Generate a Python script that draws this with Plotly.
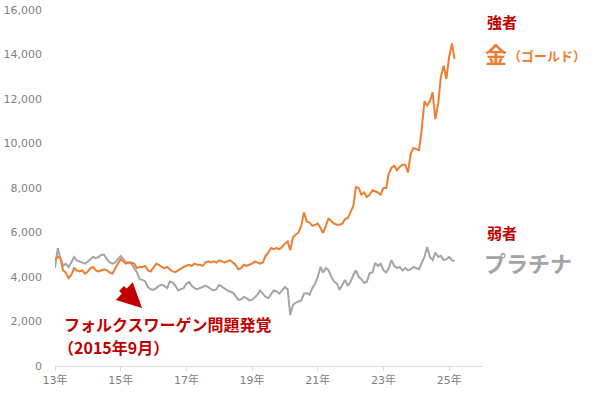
import pandas as pd
import plotly.graph_objects as go

# Monthly values (yen per gram), Jan 2013 - Mar 2025
gold = [
    4800, 4900, 4850, 4300, 4200, 3950, 4100, 4400, 4300, 4250, 4300, 4150,
    4250, 4400, 4450, 4300, 4250, 4300, 4350, 4300, 4200, 4150, 4400, 4600,
    4800, 4700, 4600, 4650, 4650, 4600, 4400, 4450, 4450, 4500, 4300, 4250,
    4450, 4600, 4550, 4450, 4400, 4450, 4350, 4250, 4220, 4300, 4350, 4450,
    4500, 4550, 4500, 4600, 4550, 4550, 4500, 4650, 4700, 4650, 4700, 4650,
    4750, 4700, 4650, 4700, 4750, 4650, 4550, 4350, 4400, 4550, 4500, 4550,
    4600, 4700, 4650, 4600, 4650, 4950, 5100, 5300, 5250, 5300, 5250, 5350,
    5500, 5600, 5200, 5800, 5900, 6000, 6300, 6900, 6500, 6450, 6300, 6350,
    6400, 6200, 5980, 6300, 6650, 6500, 6400, 6350, 6350, 6400, 6600, 6650,
    6900, 7200, 8050, 8000, 7700, 7800, 7600, 7700, 7900, 7850, 7800, 7700,
    8000, 8000, 8650, 8900, 9000, 8800, 8950, 9050, 9050, 8700, 9550, 9800,
    9750, 9700, 10600, 11900, 11700, 11900, 12300, 11100, 11800, 13000, 13500, 12900,
    13900, 14500, 13800,
]
platinum = [
    4400, 5300, 4850, 4500, 4600, 4450, 4650, 4900, 4750, 4700, 4650, 4600,
    4700, 4800, 4900, 4850, 4900, 5000, 5000, 4800, 4650, 4600, 4650, 4800,
    4940, 4800, 4650, 4650, 4600, 4400, 4200, 3900, 3870, 3800, 3550, 3450,
    3420, 3500, 3600, 3650, 3600, 3500, 3800, 3750, 3600, 3400, 3450, 3500,
    3700, 3780, 3600, 3500, 3450, 3500, 3550, 3600, 3550, 3450, 3400, 3450,
    3640, 3550, 3450, 3400, 3350, 3300, 3150, 2970, 3000, 3100, 3050, 2950,
    2970, 3100, 3200, 3400, 3250, 3100, 3050, 3200, 3400, 3350, 3250, 3400,
    3550, 3450, 2290, 2750, 2850, 2900, 2950, 3250, 3280, 3200, 3500, 3700,
    4000, 4450, 4200, 4400, 4300, 4000, 3800, 3700, 3420, 3650, 3870, 3600,
    3800, 4090, 4300, 4000, 3900, 3730, 3800, 4180, 4200, 4630, 4500, 4600,
    4310, 4200, 4400, 4760, 4500, 4400, 4450, 4300, 4400, 4300, 4350, 4450,
    4400, 4350, 4630, 4900, 5350, 4900, 4760, 5100, 4900, 4950, 4760, 4800,
    4900, 4760, 4700,
]
dates = pd.date_range("2013-01-01", periods=len(gold), freq="MS")

x_tick_vals = ["2013-01-01", "2015-01-01", "2017-01-01", "2019-01-01",
               "2021-01-01", "2023-01-01", "2025-01-01"]
x_tick_text = ["13年", "15年", "17年", "19年", "21年", "23年", "25年"]
y_tick_vals = [0, 2000, 4000, 6000, 8000, 10000, 12000, 14000, 16000]

GOLD_C = "#ED7D31"
PLAT_C = "#A5A5A5"
RED_C = "#C00000"
JP = "Noto Sans CJK JP, DejaVu Sans, sans-serif"

fig = go.Figure()
fig.add_trace(go.Scatter(x=dates, y=platinum, mode="lines",
                         line=dict(color=PLAT_C, width=2), name="プラチナ"))
fig.add_trace(go.Scatter(x=dates, y=gold, mode="lines",
                         line=dict(color=GOLD_C, width=2), name="金"))

L, R, T, B = 55, 118, 10, 27
W, H = 600, 393
pw, ph = W - L - R, H - T - B

def px(x):
    return (x - L) / pw

def py(y):
    return (H - B - y) / ph

fig.update_layout(
    width=W, height=H,
    margin=dict(l=L, r=R, t=T, b=B),
    paper_bgcolor="white", plot_bgcolor="white",
    showlegend=False,
    font=dict(family="DejaVu Sans, Noto Sans CJK JP", size=11, color="#7F7F7F"),
    xaxis=dict(
        type="date", range=["2013-01-01", "2026-01-01"],
        tickvals=x_tick_vals, ticktext=x_tick_text,
        showgrid=False, zeroline=False, automargin=False,
        showline=True, linecolor="#D9D9D9", linewidth=1,
        ticks="outside", ticklen=4, tickcolor="#D9D9D9",
        tickfont=dict(family="DejaVu Sans, Noto Sans CJK JP", size=11, color="#7F7F7F"),
    ),
    yaxis=dict(
        range=[0, 16000], tickvals=y_tick_vals, tickformat=",",
        showgrid=False, zeroline=False, showline=False, automargin=False,
        ticklabelstandoff=12,
        tickfont=dict(family="DejaVu Sans", size=11, color="#7F7F7F"),
    ),
)

ann = [
    dict(text="<b>強者</b>", x=px(485), y=py(22), xanchor="left", yanchor="middle",
         font=dict(family=JP, size=15, color=RED_C)),
    dict(text="<b>金</b>", x=px(483), y=py(53), xanchor="left", yanchor="middle",
         font=dict(family=JP, size=22, color=GOLD_C)),
    dict(text="<b>（ゴールド）</b>", x=px(506), y=py(55), xanchor="left", yanchor="middle",
         font=dict(family=JP, size=13, color=GOLD_C)),
    dict(text="<b>弱者</b>", x=px(485), y=py(232), xanchor="left", yanchor="middle",
         font=dict(family=JP, size=15, color=RED_C)),
    dict(text="<b>プラチナ</b>", x=px(482), y=py(262), xanchor="left", yanchor="middle",
         font=dict(family=JP, size=22, color=PLAT_C)),
    dict(text="<b>フォルクスワーゲン問題発覚</b>", x=px(62), y=py(324), xanchor="left",
         yanchor="middle", font=dict(family=JP, size=16, color=RED_C)),
    dict(text="<b>（2015年9月）</b>", x=px(56), y=py(347), xanchor="left",
         yanchor="middle", font=dict(family=JP, size=16, color=RED_C)),
]
for a in ann:
    a.update(xref="paper", yref="paper", showarrow=False)
    fig.add_annotation(**a)

fig.add_annotation(x=px(142), y=py(308), xref="paper", yref="paper",
                   ax=-22, ay=-21, axref="pixel", ayref="pixel",
                   showarrow=True, arrowhead=2, arrowwidth=7, arrowsize=0.7,
                   arrowcolor=RED_C, text="")

fig.write_html("out.html", config={"displayModeBar": False},
               post_script="document.body.style.margin='0';document.body.style.overflow='hidden';")
